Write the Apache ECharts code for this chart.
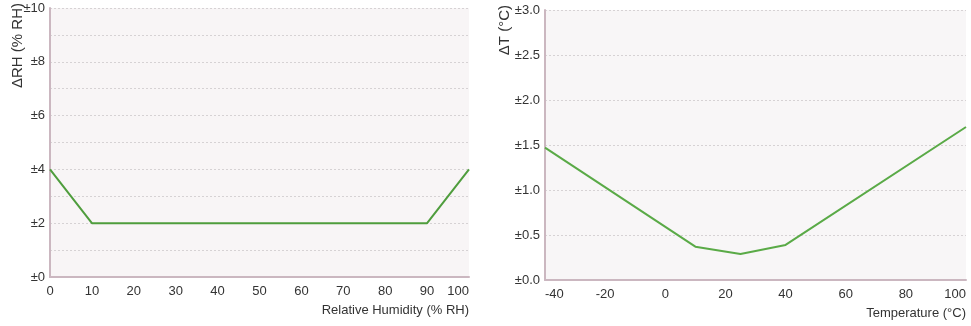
<!DOCTYPE html>
<html>
<head>
<meta charset="utf-8">
<script src="https://cdn.jsdelivr.net/npm/echarts@6/dist/echarts.min.js"></script>
<style>
    html, body { margin: 0; padding: 0; background: #fff; }
    #chart { width: 971px; height: 326px; }
</style>
</head>
<body>
<div id="chart"></div>
<script>
// left: RH accuracy vs relative humidity
var rhX = [0, 10, 90, 100];
var rhY = [4, 2, 2, 4];
// right: temperature accuracy vs temperature
var tX = [-40, 10, 25, 40, 100];
var tY = [1.47, 0.37, 0.29, 0.39, 1.7];

var font = "'Liberation Sans Narrow', 'Liberation Sans', sans-serif";
var txtColor = '#333';
var axisColor = '#cbb7c0';
var gridColor = '#d6d2d4';

var myChart = echarts.init(document.getElementById('chart'));

function xAx(idx, min, max, interval, name, alignMin) {
    return {
        gridIndex: idx,
        type: 'value',
        min: min,
        max: max,
        interval: interval,
        name: name,
        nameLocation: 'end',
        nameGap: 0,
        nameMoveOverlap: false,
        nameTextStyle: {
            fontFamily: font, fontSize: 13, color: txtColor,
            align: 'right', verticalAlign: 'top', padding: [27, 0, 0, 0]
        },
        axisLine: { show: true, onZero: false, lineStyle: { color: axisColor, width: 2 } },
        axisTick: { show: false },
        splitLine: { show: false },
        axisLabel: {
            fontFamily: font, fontSize: 13, color: txtColor, margin: 8,
            alignMinLabel: alignMin, alignMaxLabel: 'right'
        }
    };
}

function yAx(idx, min, max, interval, name, pad, fmt) {
    return {
        gridIndex: idx,
        type: 'value',
        min: min,
        max: max,
        interval: interval,
        name: name,
        nameLocation: 'end',
        nameRotate: 90,
        nameGap: 5,
        nameMoveOverlap: false,
        nameTextStyle: {
            fontFamily: font, fontSize: 15, color: txtColor,
            align: 'right', verticalAlign: 'bottom', padding: [0, 0, pad, 0]
        },
        axisLine: { show: true, onZero: false, lineStyle: { color: axisColor, width: 2 } },
        axisTick: { show: false },
        splitLine: { show: true, lineStyle: { color: gridColor, type: [2, 2], width: 1 } },
        axisLabel: { fontFamily: font, fontSize: 13, color: txtColor, margin: 5, formatter: fmt }
    };
}

var option = {
    animation: false,
    grid: [{
        left: 50, right: 502, top: 8, bottom: 49,
        outerBoundsMode: 'none',
        show: true, backgroundColor: '#f8f5f6', borderWidth: 0
    }, {
        left: 545, right: 5, top: 10, bottom: 46,
        outerBoundsMode: 'none',
        show: true, backgroundColor: '#f8f6f7', borderWidth: 0
    }],
    xAxis: [
        xAx(0, 0, 100, 10, 'Relative Humidity (% RH)', 'center'),
        xAx(1, -40, 100, 20, 'Temperature (°C)', 'left')
    ],
    yAxis: [
        yAx(0, 0, 10, 1, 'ΔRH (% RH)', 25, function (v) {
            return v % 2 === 0 ? '±' + v : '';
        }),
        yAx(1, 0, 3, 0.5, 'ΔT (°C)', 33, function (v) {
            return '±' + v.toFixed(1);
        })
    ],
    series: [{
        type: 'line',
        xAxisIndex: 0,
        yAxisIndex: 0,
        symbol: 'none',
        lineStyle: { color: '#4f9d3d', width: 2 },
        data: rhX.map(function (x, i) { return [x, rhY[i]]; })
    }, {
        type: 'line',
        xAxisIndex: 1,
        yAxisIndex: 1,
        symbol: 'none',
        lineStyle: { color: '#5aaa47', width: 2 },
        data: tX.map(function (x, i) { return [x, tY[i]]; })
    }]
};

myChart.setOption(option);
</script>
</body>
</html>
